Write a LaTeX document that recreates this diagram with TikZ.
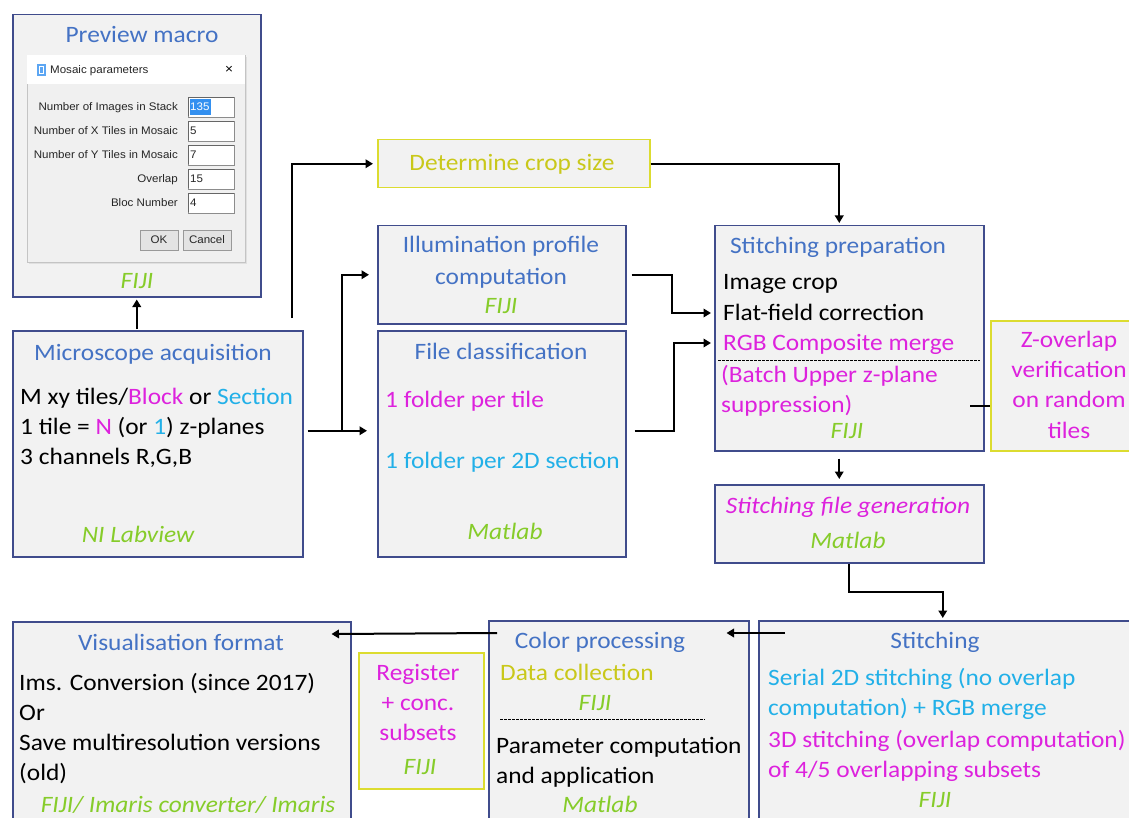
\documentclass[tikz,border=0pt]{standalone}
\usepackage{fontspec}
\setmainfont{Carlito}[FakeStretch=1.08]
\newfontfamily\dlgfont{Liberation Sans}[FakeStretch=1.05]
\usetikzlibrary{arrows.meta}
\definecolor{boxblue}{HTML}{404C8C}
\definecolor{boxfill}{HTML}{F2F2F2}
\definecolor{ttl}{HTML}{4472C4}
\definecolor{mag}{HTML}{DD22DD}
\definecolor{cya}{HTML}{22B0E8}
\definecolor{grn}{HTML}{86CC2A}
\definecolor{ytxt}{HTML}{C9C81A}
\definecolor{yborder}{HTML}{DCDC30}
\definecolor{dlgbody}{HTML}{F0F0F0}
\definecolor{dlgedge}{HTML}{C4C4C4}
\definecolor{selblue}{HTML}{3390F0}
\definecolor{btnfill}{HTML}{E3E3E3}
\begin{document}
\begin{tikzpicture}[x=1pt,y=-1pt,
  box/.style={draw=boxblue, fill=boxfill, line width=1.5pt, inner sep=0, anchor=north west},
  ybox/.style={box, draw=yborder},
  t/.style={inner sep=0, text height=14pt, text depth=0pt, font=\fontsize{23.5}{28}\selectfont},
  tl/.style={t, anchor=west},
  tc/.style={t, anchor=center},
  gi/.style={text=grn, font=\fontsize{23.5}{28}\selectfont\itshape},
  conn/.style={line width=2pt},
  arr/.style={conn, -{Triangle[length=7.5pt,width=8.5pt]}},
  dl/.style={inner sep=0, text height=7.6pt, text depth=0pt, font=\dlgfont\fontsize{11}{12}\selectfont, text=black!85},
  fld/.style={draw=black!45, fill=white, line width=0.6pt},
  btn/.style={draw=black!40, fill=btnfill, line width=0.6pt},
  dsh/.style={dashed, dash pattern=on 2.5pt off 1.5pt, line width=0.9pt},
]
\useasboundingbox (0,0) rectangle (1129,818);
\clip (0,0) rectangle (1129,818);
\fill[white] (0,0) rectangle (1129,818);

% ---------- boxes ----------
\node[box, minimum width=248pt, minimum height=282pt] (prev) at (12,14) {};
\node[box, minimum width=290pt, minimum height=226pt] (micro) at (12,330) {};
\node[ybox, minimum width=272pt, minimum height=48pt] (crop) at (377,139) {};
\node[box, minimum width=248pt, minimum height=98pt] (illum) at (377,225) {};
\node[box, minimum width=248pt, minimum height=226pt] (file) at (377,330) {};
\node[box, minimum width=269pt, minimum height=225pt] (prep) at (714,225) {};
\node[ybox, minimum width=150pt, minimum height=130pt] (zov) at (990,320) {};
\node[box, minimum width=269pt, minimum height=78pt] (gen) at (714,484) {};
\node[box, minimum width=338pt, minimum height=210pt] (vis) at (12,621) {};
\node[ybox, minimum width=125pt, minimum height=136pt] (reg) at (358,652) {};
\node[box, minimum width=260pt, minimum height=210pt] (color) at (488,620) {};
\node[box, minimum width=380pt, minimum height=210pt] (stitch) at (758,620) {};

% ---------- preview macro ----------
\node[tc, text=ttl] (prevt) at (142,36) {Preview macro};
\fill[black!12] (29,57) rectangle (247,264);
\draw[dlgedge, fill=dlgbody, line width=0.6pt] (27,55) rectangle (245,262);
\fill[white] (27.4,55.4) rectangle (244.6,84);
\fill[selblue!80] (37,64) rectangle (46,76);
\fill[white] (39,66) rectangle (44,74);
\fill[selblue!80] (40,67) rectangle (43,73);
\node[dl, anchor=west] (dlgtitle) at (50,70) {Mosaic parameters};
\node[inner sep=0, font=\dlgfont\fontsize{13}{14}\selectfont] (dlgx) at (229,70) {×};
\node[dl, anchor=east] (l1) at (178,107) {Number of Images in Stack};
\node[dl, anchor=east] (l2) at (178,131) {Number of X Tiles in Mosaic};
\node[dl, anchor=east] (l3) at (178,155) {Number of Y Tiles in Mosaic};
\node[dl, anchor=east] (l4) at (178,179) {Overlap};
\node[dl, anchor=east] (l5) at (178,203) {Bloc Number};
\foreach \yy in {107,131,155,179,203}{
  \draw[fld] (188,\yy-10) rectangle (234,\yy+10);
  \draw[black!60, line width=0.7pt] (188.5,\yy+9.5) -- (188.5,\yy-9.5) -- (233.5,\yy-9.5);
}
\fill[selblue] (190,99) rectangle (211,115);
\node[dl, anchor=west, text=white] (v1) at (190,107) {135};
\node[dl, anchor=west] (v2) at (190,131) {5};
\node[dl, anchor=west] (v3) at (190,155) {7};
\node[dl, anchor=west] (v4) at (190,179) {15};
\node[dl, anchor=west] (v5) at (190,203) {4};
\draw[btn] (140,230) rectangle (178,250);
\draw[btn] (183,230) rectangle (231,250);
\node[dl] (okb) at (159,240) {OK};
\node[dl] (cancelb) at (207,240) {Cancel};
\node[tc, gi] (prevf) at (137,281) {FIJI};

% ---------- microscope ----------
\node[tc, text=ttl] (microt) at (153,353) {Microscope acquisition};
\node[tl] (m1) at (20,397) {M xy tiles/\textcolor{mag}{Block} or \textcolor{cya}{Section}};
\node[tl] (m2) at (20,427) {1 tile = \textcolor{mag}{N} (or \textcolor{cya}{1}) z-planes};
\node[tl] (m3) at (20,457) {3 channels R,G,B};
\node[tc, gi] (mf) at (138,535) {NI Labview};

% ---------- crop ----------
\node[tc, text=ytxt] (cropt) at (512,164) {Determine crop size};

% ---------- illumination ----------
\node[tc, text=ttl] (il1) at (501,246) {Illumination profile};
\node[tc, text=ttl] (il2) at (501,277) {computation};
\node[tc, gi] (ilf) at (501,306) {FIJI};

% ---------- file classification ----------
\node[tc, text=ttl] (filet) at (501,352) {File classification};
\node[tl, text=mag] (f1) at (385,400) {1 folder per tile};
\node[tl, text=cya] (f2) at (385,461) {1 folder per 2D section};
\node[tc, gi] (ff) at (505,532) {Matlab};

% ---------- stitching preparation ----------
\node[tc, text=ttl] (prept) at (838,247) {Stitching preparation};
\node[tl] (crp) at (723,283) {Image crop};
\node[tl] (flat) at (723,313) {Flat-field correction};
\node[tl, text=mag] (rgb) at (723,343) {RGB Composite merge};
\draw[dsh] (718,360) -- (980,360);
\node[tl, text=mag] (bat) at (721,375) {(Batch Upper z-plane};
\node[tl, text=mag] (sup) at (721,405) {suppression)};
\node[tc, gi] (prepf) at (847,431) {FIJI};

% ---------- z-overlap ----------
\node[tc, text=mag] (z1) at (1069,340) {Z-overlap};
\node[tc, text=mag] (z2) at (1069,370) {verification};
\node[tc, text=mag] (z3) at (1069,400) {on random};
\node[tc, text=mag] (z4) at (1069,431) {tiles};

% ---------- stitching file generation ----------
\node[tc, gi, text=mag] (gent) at (848,506) {Stitching file generation};
\node[tc, gi] (genf) at (848,541) {Matlab};

% ---------- visualisation ----------
\node[tc, text=ttl] (vist) at (181,643) {Visualisation format};
\node[tl] (vi1) at (19,683) {Ims. Conversion (since 2017)};
\node[tl] (vi2) at (19,713) {Or};
\node[tl] (vi3) at (19,743) {Save multiresolution versions};
\node[tl] (vi4) at (19,773) {(old)};
\node[tc, gi] (visf) at (188,805) {FIJI/ Imaris converter/ Imaris};

% ---------- register ----------
\node[tc, text=mag] (r1) at (418,673) {Register};
\node[tc, text=mag] (r2) at (418,703) {+ conc.};
\node[tc, text=mag] (r3) at (418,733) {subsets};
\node[tc, gi] (rf) at (420,767) {FIJI};

% ---------- color processing ----------
\node[tc, text=ttl] (colt) at (600,641) {Color processing};
\node[tl, text=ytxt] (c1) at (500,673) {Data collection};
\node[tc, gi] (cf1) at (595,703) {FIJI};
\draw[dsh] (500,719) -- (705,719);
\node[tl] (c2) at (496,746) {Parameter computation};
\node[tl] (c3) at (496,776) {and application};
\node[tc, gi] (cf2) at (600,805) {Matlab};

% ---------- stitching ----------
\node[tc, text=ttl] (stt) at (935,641) {Stitching};
\node[tl, text=cya] (s1) at (768,678) {Serial 2D stitching (no overlap};
\node[tl, text=cya] (s2) at (768,708) {computation) + RGB merge};
\node[tl, text=mag] (s3) at (768,740) {3D stitching (overlap computation)};
\node[tl, text=mag] (s4) at (768,770) {of 4/5 overlapping subsets};
\node[tc, gi] (sf) at (935,800) {FIJI};

% ---------- connectors ----------
\draw[arr] ([yshift=1pt]micro.north -| prev.south) -- ([yshift=-2pt]prev.south);
\draw[arr] ([xshift=134pt,yshift=12pt]micro.north) |- ([xshift=-4pt]crop.west);
\coordinate (br) at ([xshift=38pt,yshift=13pt]micro.east);
\draw[conn] ([xshift=4pt,yshift=13pt]micro.east) -- (br);
\draw[arr] (br) |- ([xshift=-8pt]illum.west);
\draw[arr] (br) -- ([xshift=-10pt]br -| file.west);
\draw[arr] ([xshift=5pt]illum.east) -- ++(40,0) |- ([xshift=-3pt]prep.west |- flat);
\draw[arr] ([xshift=8pt,yshift=13pt]file.east) -- ++(39,0) |- ([xshift=-3pt]prep.west |- rgb);
\draw[arr] (crop.east) -| ([xshift=-10pt,yshift=2pt]prep.north);
\draw[arr] ([xshift=-10pt,yshift=-7pt]prep.south) -- ([xshift=-10pt,yshift=5pt]gen.north);
\draw[conn] ([xshift=-20pt,yshift=-20pt]zov.west) -- ([yshift=-20pt]zov.west);
\draw[arr] (gen.south) -- ++(0,28) -| ([xshift=-6pt,yshift=2pt]stitch.north);
\draw[arr] ([xshift=27pt,yshift=-13pt]stitch.north west) -- ([xshift=-23pt,yshift=-13pt]color.north east);
\draw[arr] ([xshift=9pt,yshift=-13pt]color.north west) -- ([xshift=-20pt,yshift=-13pt]vis.north east);
\end{tikzpicture}
\end{document}
